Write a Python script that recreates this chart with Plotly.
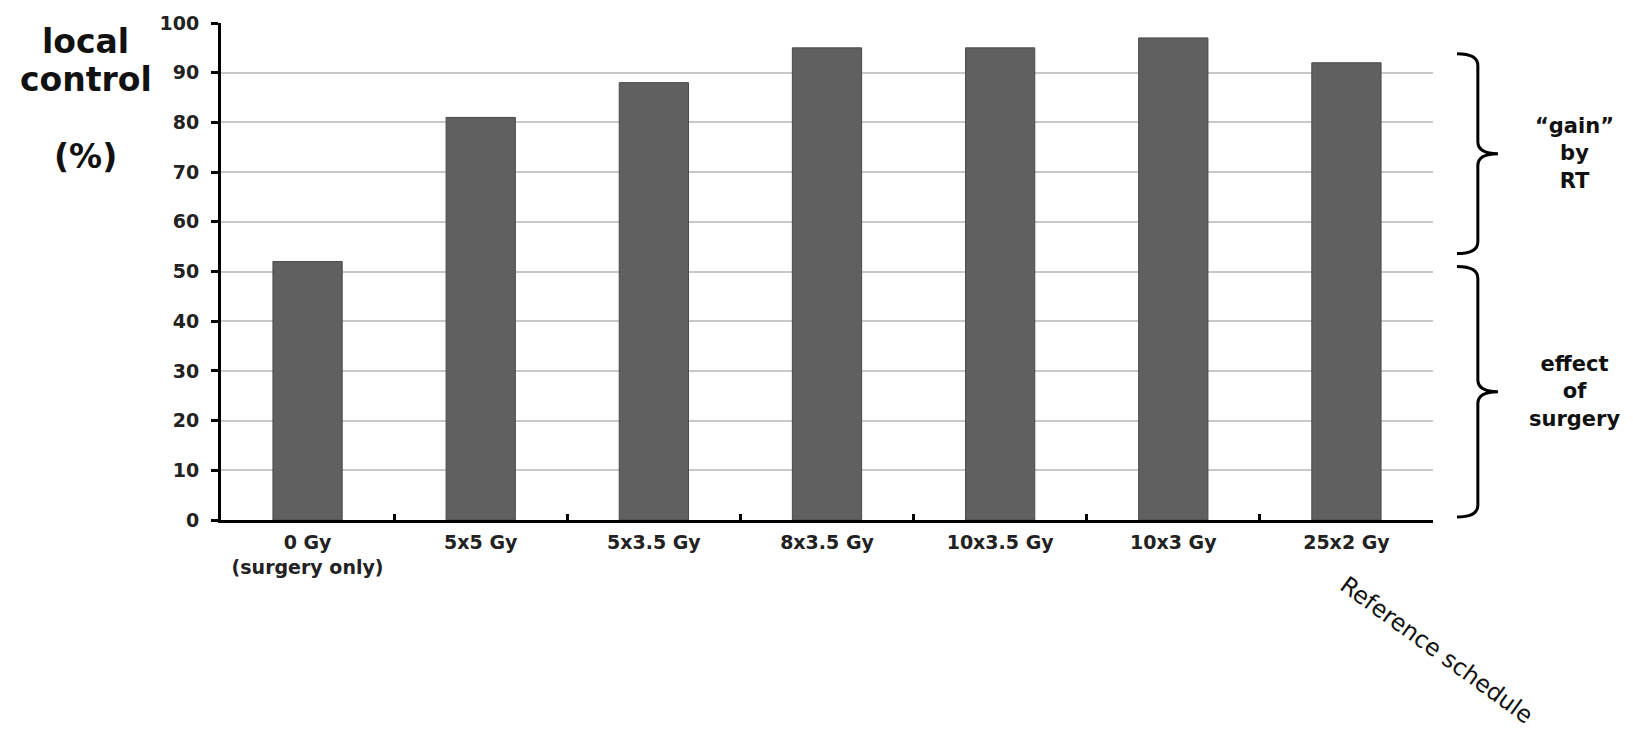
import plotly.graph_objects as go

# Fractionation schedules and local control rates (%)
schedules = ["0 Gy<br>(surgery only)", "5x5 Gy", "5x3.5 Gy", "8x3.5 Gy",
             "10x3.5 Gy", "10x3 Gy", "25x2 Gy"]
local_control = [52, 81, 88, 95, 95, 97, 92]
y_ticks = [0, 10, 20, 30, 40, 50, 60, 70, 80, 90, 100]

# Spans (in % local control) covered by the two curly braces
gain_span = (53.6, 93.8)
surgery_span = (0.6, 51.0)

FONT = "DejaVu Sans"
fig = go.Figure()
fig.add_trace(go.Bar(
    x=schedules, y=local_control,
    marker=dict(color="#606060", line=dict(color="#4a4a4a", width=1)),
    width=0.4,
))

def brace(y0, y1, x_hook=1.0198, x_line=1.037, x_tip=1.0536, r=2.4):
    """Right-facing curly brace between data values y0 (bottom) and y1 (top)."""
    ym = (y0 + y1) / 2
    return (f"M {x_hook},{y1} Q {x_line},{y1} {x_line},{y1 - r} "
            f"L {x_line},{ym + r} Q {x_line},{ym} {x_tip},{ym} "
            f"Q {x_line},{ym} {x_line},{ym - r} "
            f"L {x_line},{y0 + r} Q {x_line},{y0} {x_hook},{y0}")

for lo, hi in (gain_span, surgery_span):
    fig.add_shape(type="path", xref="paper", yref="y", path=brace(lo, hi),
                  line=dict(color="black", width=3))

side_font = dict(family=FONT, size=21, color="#111", weight="bold")
fig.add_annotation(x=1.117, y=sum(gain_span) / 2, xref="paper", yref="y",
                   xanchor="center", yanchor="middle",
                   text="“gain”<br>by<br>RT", showarrow=False,
                   font=side_font, align="center")
fig.add_annotation(x=1.117, y=sum(surgery_span) / 2, xref="paper", yref="y",
                   xanchor="center", yanchor="middle",
                   text="effect<br>of<br>surgery", showarrow=False,
                   font=side_font, align="center")

title_font = dict(family=FONT, size=33, color="#111", weight="bold")
for txt, yp in (("local", 0.962), ("control", 0.886), ("(%)", 0.731)):
    fig.add_annotation(x=-0.1114, y=yp, xref="paper", yref="paper",
                       xanchor="center", yanchor="middle",
                       text=txt, showarrow=False, font=title_font)

fig.add_annotation(x=1.003, y=-0.262, xref="paper", yref="paper",
                   xanchor="center", yanchor="middle",
                   text="Reference schedule", textangle=36, showarrow=False,
                   font=dict(family=FONT, size=23.5, color="#111"))

tick_font = dict(family=FONT, size=19, color="#222", weight="bold")
fig.update_layout(
    width=1633, height=737,
    margin=dict(l=221, r=200, t=17, b=217),
    paper_bgcolor="white", plot_bgcolor="white",
    showlegend=False,
    xaxis=dict(
        type="category",
        showline=True, linecolor="black", linewidth=3,
        ticks="inside", tickson="boundaries", ticklen=6, tickwidth=3,
        tickcolor="black", showgrid=False,
        tickfont=tick_font, ticklabelstandoff=3,
    ),
    yaxis=dict(
        range=[0, 100], tickvals=y_ticks,
        showline=True, linecolor="black", linewidth=3,
        ticks="outside", ticklen=7, tickwidth=3, tickcolor="black",
        showgrid=True, gridcolor="#c8c8c8", gridwidth=1.5,
        tickfont=tick_font, ticklabelstandoff=8, zeroline=False,
    ),
)

fig.write_html("out.html")
